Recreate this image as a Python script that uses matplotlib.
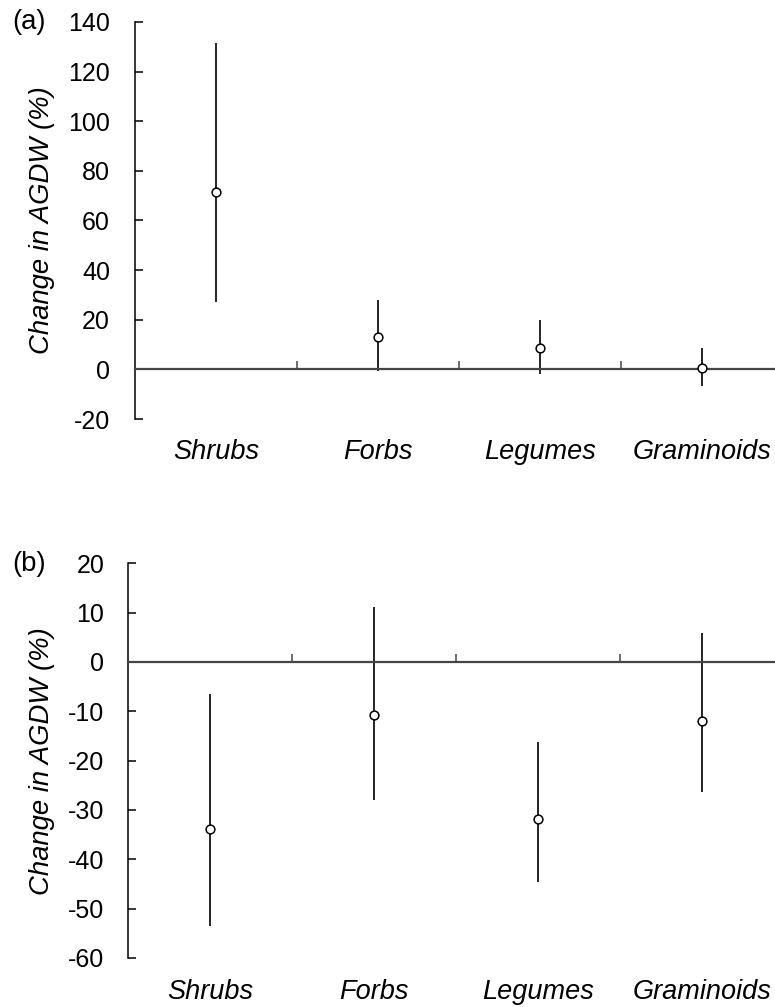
import numpy as np
import matplotlib.pyplot as plt

plt.rcParams['font.family'] = ['Liberation Sans', 'DejaVu Sans']

# --- data: mean change with lower/upper limits ---
groups = ['Shrubs', 'Forbs', 'Legumes', 'Graminoids']

a_mean = [71.6, 13.0, 8.5, 0.7]
a_low = [27.0, -0.5, -2.0, -6.8]
a_high = [131.5, 28.0, 20.0, 8.6]

b_mean = [-33.8, -10.7, -31.8, -11.9]
b_low = [-53.5, -28.0, -44.7, -26.4]
b_high = [-6.5, 11.2, -16.2, 5.9]

a_yticks = [-20, 0, 20, 40, 60, 80, 100, 120, 140]
b_yticks = [-60, -50, -40, -30, -20, -10, 0, 10, 20]

tick_fs = 18
lab_fs = 19.8
grp_fs = 19.5
zero_col = '#454545'

fig = plt.figure(figsize=(7.75, 10.07), dpi=100)


def panel(rect, mean, low, high, yticks, pad, lab_y):
    ax = fig.add_axes(rect)
    x = np.arange(1, len(groups) + 1)
    ax.vlines(x, low, high, color='black', lw=1.2, zorder=2)
    ax.plot(x, mean, 'o', ms=6.3, mfc='white', mec='black', mew=1.1, zorder=3)

    ax.set_xlim(0.5, len(groups) + 0.5)
    ax.set_ylim(yticks[0], yticks[-1])
    ax.set_yticks(yticks)
    ax.set_yticklabels([str(t) for t in yticks], fontsize=tick_fs)

    # zero line doubles as the x axis, ticks mark group boundaries
    ax.spines['top'].set_visible(False)
    ax.spines['right'].set_visible(False)
    ax.spines['bottom'].set_position(('data', 0))
    ax.spines['bottom'].set_color(zero_col)
    ax.spines['bottom'].set_linewidth(1.6)
    ax.spines['left'].set_linewidth(1.1)
    ax.set_xticks(x[:-1] + 0.5)
    ax.tick_params(axis='x', direction='in', length=6, width=1.1,
                   color=zero_col, labelbottom=False)
    ax.tick_params(axis='y', direction='in', length=6, width=1.1, pad=pad)

    for xi, g in zip(x, groups):
        ax.text(xi, lab_y, g, transform=ax.get_xaxis_transform(),
                ha='center', va='center', fontsize=grp_fs, style='italic')

    ax.set_ylabel('Change in AGDW (%)', fontsize=lab_fs, style='italic')
    return ax


ax1 = panel([0.1742, 0.5839, 0.8362, 0.3943], a_mean, a_low, a_high,
            a_yticks, 18, -0.082)
ax1.yaxis.set_label_coords(-0.124, 0.5)

ax2 = panel([0.1652, 0.0487, 0.8465, 0.3919], b_mean, b_low, b_high,
            b_yticks, 17, -0.087)
ax2.yaxis.set_label_coords(-0.112, 0.5)

fig.text(0.016, 1 - 22 / 1007, '(a)', fontsize=lab_fs, ha='left', va='center')
fig.text(0.016, 1 - 564 / 1007, '(b)', fontsize=lab_fs, ha='left', va='center')

fig.savefig('out.png', dpi=100)
